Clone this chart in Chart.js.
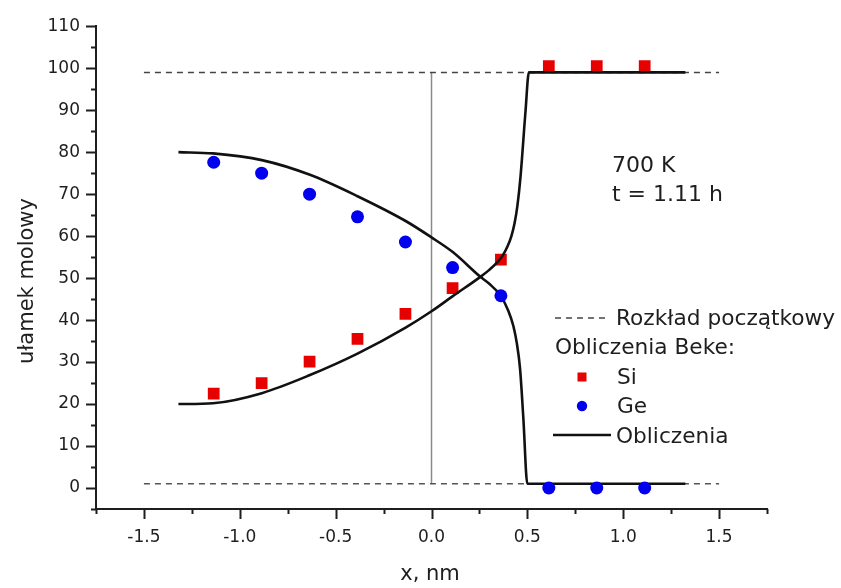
<!DOCTYPE html>
<html>
<head>
<meta charset="utf-8">
<script src="https://cdn.jsdelivr.net/npm/chart.js@4.4.0/dist/chart.umd.min.js"></script>
<style>
  html, body { margin: 0; padding: 0; background: #fff; }
  #wrap { width: 841px; height: 588px; }
</style>
</head>
<body>
<div id="wrap"><canvas id="profileChart" width="841" height="588"></canvas></div>
<script>
// Positions of the Beke points (nm)
const pointX = [-1.136, -0.886, -0.636, -0.386, -0.136, 0.110, 0.362, 0.612, 0.862, 1.112];
const siPoints = [22.5, 25.0, 30.1, 35.5, 41.5, 47.6, 54.4, 100.5, 100.5, 100.5];
const gePoints = [77.6, 75.0, 70.0, 64.6, 58.6, 52.5, 45.8, 0.0, 0.0, 0.0];

// Own calculations (solid curves)
const siCalcX = [-1.32, -1.14, -0.885, -0.634, -0.386, -0.135, 0.0, 0.111, 0.255, 0.30, 0.34, 0.37, 0.395, 0.416, 0.433, 0.448, 0.464, 0.49, 0.508, 1.324];
const siCalcY = [20.0, 20.2, 22.6, 26.9, 32.0, 38.2, 42.1, 45.7, 50.3, 51.9, 53.6, 55.3, 57.4, 59.9, 63.0, 67.2, 74.0, 89.5, 99.0, 99.0];
const geCalcX = [-1.32, -1.14, -0.885, -0.634, -0.386, -0.135, 0.0, 0.111, 0.255, 0.30, 0.357, 0.40, 0.427, 0.445, 0.462, 0.479, 0.5, 1.324];
const geCalcY = [80.0, 79.7, 78.1, 74.6, 69.5, 63.6, 59.7, 56.2, 50.3, 48.7, 46.0, 42.3, 38.6, 34.5, 28.4, 16.7, 1.0, 1.0];

// Initial step profile
const initialX = [-1.5, 1.5];
const initialTop = [99, 99];
const initialBottom = [1, 1];
const stepX = [0, 0];
const stepY = [1, 99];

// Axis ticks
const xMajor = [-1.5, -1.0, -0.5, 0.0, 0.5, 1.0, 1.5];
const yMajor = [0, 10, 20, 30, 40, 50, 60, 70, 80, 90, 100, 110];

const FONT = 'DejaVu Sans';
const INK = '#1e1e1e';
const RED = '#e60000';
const BLUE = '#0000ee';

Chart.defaults.font.family = FONT;
Chart.defaults.color = INK;

function toXY(xs, ys) {
    return xs.map((x, i) => ({ x: x, y: ys[i] }));
}

function isMajorX(v) {
    return xMajor.some(m => Math.abs(m - v) < 1e-9);
}

function isMajorY(v) {
    return yMajor.indexOf(v) !== -1;
}

// outward tick marks, long for labelled ticks and short for minor ones
const tickMarks = {
    id: 'tickMarks',
    afterDraw(chart) {
        const ctx = chart.ctx;
        const xs = chart.scales.x;
        const ys = chart.scales.y;
        const area = chart.chartArea;
        ctx.save();
        ctx.strokeStyle = INK;
        ctx.lineWidth = 2;
        ctx.beginPath();
        xs.ticks.forEach(t => {
            const px = Math.round(xs.getPixelForValue(t.value)) + 0.5;
            const len = isMajorX(t.value) ? 10 : 5;
            ctx.moveTo(px, area.bottom);
            ctx.lineTo(px, area.bottom + len);
        });
        ys.ticks.forEach(t => {
            const py = Math.round(ys.getPixelForValue(t.value)) + 0.5;
            const len = isMajorY(t.value) ? 10 : 5;
            ctx.moveTo(area.left, py);
            ctx.lineTo(area.left - len, py);
        });
        ctx.stroke();
        ctx.restore();
    }
};

// legend, annotation and axis titles
const textLayer = {
    id: 'textLayer',
    afterDraw(chart) {
        const ctx = chart.ctx;
        ctx.save();
        ctx.fillStyle = INK;
        ctx.textAlign = 'left';
        ctx.textBaseline = 'alphabetic';

        // temperature and time
        ctx.font = '22px "' + FONT + '"';
        ctx.fillText('700 K', 612, 172);
        ctx.fillText('t = 1.11 h', 612, 201);

        // legend
        ctx.font = '21.7px "' + FONT + '"';
        ctx.strokeStyle = '#444';
        ctx.lineWidth = 1.5;
        ctx.setLineDash([6, 5]);
        ctx.beginPath();
        ctx.moveTo(555, 318);
        ctx.lineTo(610, 318);
        ctx.stroke();
        ctx.setLineDash([]);
        ctx.fillText('Rozkład początkowy', 616, 325);

        ctx.fillText('Obliczenia Beke:', 555, 354);

        ctx.fillStyle = RED;
        ctx.fillRect(577.5, 372.5, 9, 9);
        ctx.fillStyle = INK;
        ctx.fillText('Si', 617, 384);

        ctx.fillStyle = BLUE;
        ctx.beginPath();
        ctx.arc(582, 406, 5.2, 0, Math.PI * 2);
        ctx.fill();
        ctx.fillStyle = INK;
        ctx.fillText('Ge', 617, 413);

        ctx.strokeStyle = '#111';
        ctx.lineWidth = 2.6;
        ctx.beginPath();
        ctx.moveTo(553, 435);
        ctx.lineTo(611, 435);
        ctx.stroke();
        ctx.fillText('Obliczenia', 616, 443);

        // axis titles
        ctx.font = '21px "' + FONT + '"';
        ctx.textAlign = 'center';
        ctx.fillText('x, nm', 430, 580);

        ctx.translate(33, 281);
        ctx.rotate(-Math.PI / 2);
        ctx.fillText('ułamek molowy', 0, 0);
        ctx.restore();
    }
};

const lineStyle = {
    showLine: true,
    pointRadius: 0,
    fill: false,
    borderColor: '#111',
    borderWidth: 2.6,
    cubicInterpolationMode: 'monotone'
};

new Chart(document.getElementById('profileChart'), {
    type: 'scatter',
    data: {
        datasets: [
            {
                label: 'Ge',
                data: toXY(pointX, gePoints),
                pointStyle: 'circle',
                pointRadius: 6.5,
                backgroundColor: BLUE,
                borderWidth: 0
            },
            Object.assign({ label: 'Obliczenia Si', data: toXY(siCalcX, siCalcY) }, lineStyle),
            Object.assign({ label: 'Obliczenia Ge', data: toXY(geCalcX, geCalcY) }, lineStyle),
            {
                label: 'Si',
                data: toXY(pointX, siPoints),
                pointStyle: 'rect',
                pointRadius: 8.3,
                backgroundColor: RED,
                borderWidth: 0
            },
            {
                label: 'Rozkład początkowy',
                data: toXY(initialX, initialTop),
                showLine: true,
                pointRadius: 0,
                borderColor: '#444',
                borderWidth: 1.5,
                borderDash: [6, 5]
            },
            {
                label: 'Rozkład początkowy (dół)',
                data: toXY(initialX, initialBottom),
                showLine: true,
                pointRadius: 0,
                borderColor: '#555',
                borderWidth: 1.5,
                borderDash: [6, 5]
            },
            {
                label: 'Skok',
                data: toXY(stepX, stepY),
                showLine: true,
                pointRadius: 0,
                borderColor: '#8a8a8a',
                borderWidth: 1.5
            }
        ]
    },
    options: {
        responsive: false,
        animation: false,
        events: [],
        layout: {
            padding: { top: 19, right: 74, bottom: 0, left: 0 }
        },
        plugins: {
            legend: { display: false },
            tooltip: { enabled: false }
        },
        scales: {
            x: {
                type: 'linear',
                min: -1.75,
                max: 1.75,
                afterFit: function(scale) { scale.height = 79; },
                grid: { display: true, drawOnChartArea: false, drawTicks: false },
                border: { display: true, color: INK, width: 2 },
                ticks: {
                    stepSize: 0.25,
                    autoSkip: false,
                    maxRotation: 0,
                    padding: 18,
                    font: { size: 17 },
                    color: INK,
                    callback: function(value) {
                        return isMajorX(value) ? value.toFixed(1) : '';
                    }
                }
            },
            y: {
                type: 'linear',
                min: -5,
                max: 110,
                afterFit: function(scale) { scale.width = 96; },
                grid: { display: true, drawOnChartArea: false, drawTicks: false },
                border: { display: true, color: INK, width: 2 },
                ticks: {
                    stepSize: 5,
                    autoSkip: false,
                    padding: 16,
                    font: { size: 17 },
                    color: INK,
                    callback: function(value) {
                        return isMajorY(value) ? String(value) : '';
                    }
                }
            }
        }
    },
    plugins: [tickMarks, textLayer]
});
</script>
</body>
</html>
